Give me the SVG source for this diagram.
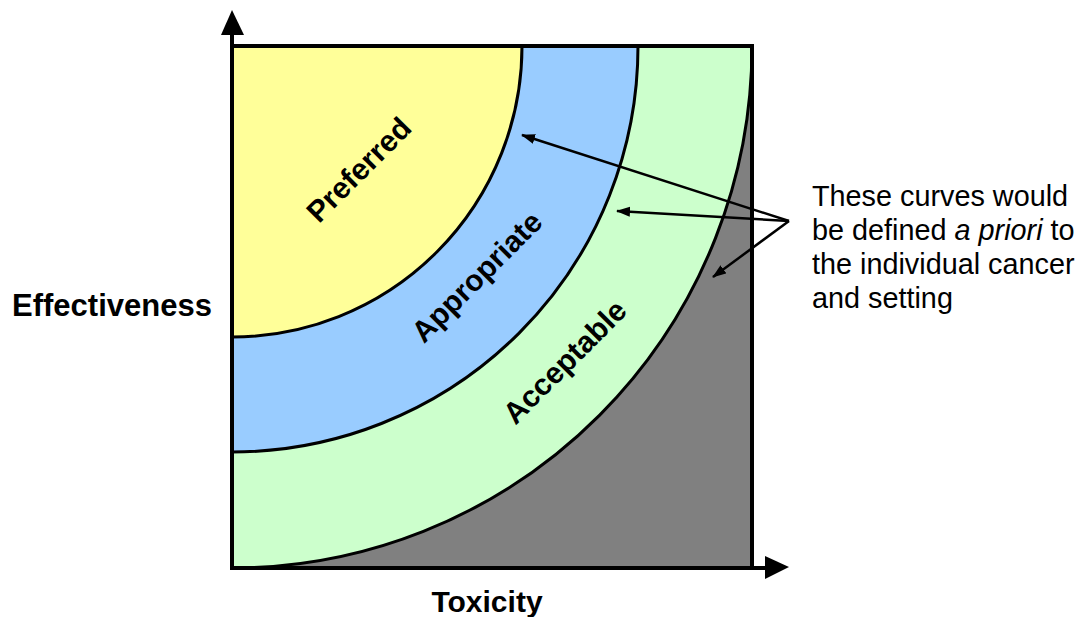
<svg xmlns="http://www.w3.org/2000/svg" width="1076" height="617" viewBox="0 0 1076 617">
<style>
.lbl{font-family:"Liberation Sans",Arial,sans-serif;font-weight:bold;font-size:30px;fill:#000;text-anchor:middle}
.note{font-family:"Liberation Sans",Arial,sans-serif;font-size:28.8px;fill:#000}
.arc{fill:none;stroke:#000;stroke-width:3}
.conn{stroke:#000;stroke-width:2.5;fill:none;marker-end:url(#ah)}
</style>
<defs>
<marker id="ah" markerUnits="userSpaceOnUse" markerWidth="14" markerHeight="12" refX="13" refY="5" orient="auto">
<path d="M0,0 L14,5 L0,10 Z" fill="#000"/>
</marker>
</defs>
<rect width="1076" height="617" fill="#fff"/>
<g id="plot">
<rect id="unacceptable" x="232" y="46" width="520" height="522" fill="#808080"/>
<g id="acceptable">
<path d="M232,46 H752 A520,522 0 0 1 232,568 Z" fill="#CCFFCC"/>
<path class="arc" d="M752,46 A520,522 0 0 1 232,568"/>
</g>
<g id="appropriate">
<path d="M232,46 H638 A406,406 0 0 1 232,452 Z" fill="#99CCFF"/>
<path class="arc" d="M638,46 A406,406 0 0 1 232,452"/>
</g>
<g id="preferred">
<path d="M232,46 H522 A290,291 0 0 1 232,337 Z" fill="#FFFF99"/>
<path class="arc" d="M522,46 A290,291 0 0 1 232,337"/>
</g>
<rect x="232" y="46" width="520" height="522" fill="none" stroke="#000" stroke-width="4"/>
</g>
<g id="axes">
<line x1="232" y1="568" x2="232" y2="32" stroke="#000" stroke-width="4"/>
<polygon points="232,10 221,35 244,35" fill="#000"/>
<line x1="232" y1="568" x2="768" y2="568" stroke="#000" stroke-width="4"/>
<polygon points="789,567 765,556 765,579" fill="#000"/>
</g>
<g id="labels">
<text class="lbl" transform="translate(359,170) rotate(-45)" y="10">Preferred</text>
<text class="lbl" transform="translate(477,277) rotate(-45)" y="10">Appropriate</text>
<text class="lbl" transform="translate(565,362) rotate(-45)" y="10">Acceptable</text>
<text class="lbl" x="112" y="316" style="font-size:31px">Effectiveness</text>
<text class="lbl" x="487" y="612">Toxicity</text>
</g>
<g id="note">
<text class="note" x="812" y="206">These curves would</text>
<text class="note" x="812" y="240">be defined <tspan font-style="italic">a priori</tspan> to</text>
<text class="note" x="812" y="274">the individual cancer</text>
<text class="note" x="812" y="308">and setting</text>
</g>
<g id="connectors">
<line class="conn" x1="789" y1="221" x2="522" y2="135"/>
<line class="conn" x1="789" y1="221" x2="617" y2="211"/>
<line class="conn" x1="789" y1="221" x2="713" y2="277"/>
</g>
</svg>
